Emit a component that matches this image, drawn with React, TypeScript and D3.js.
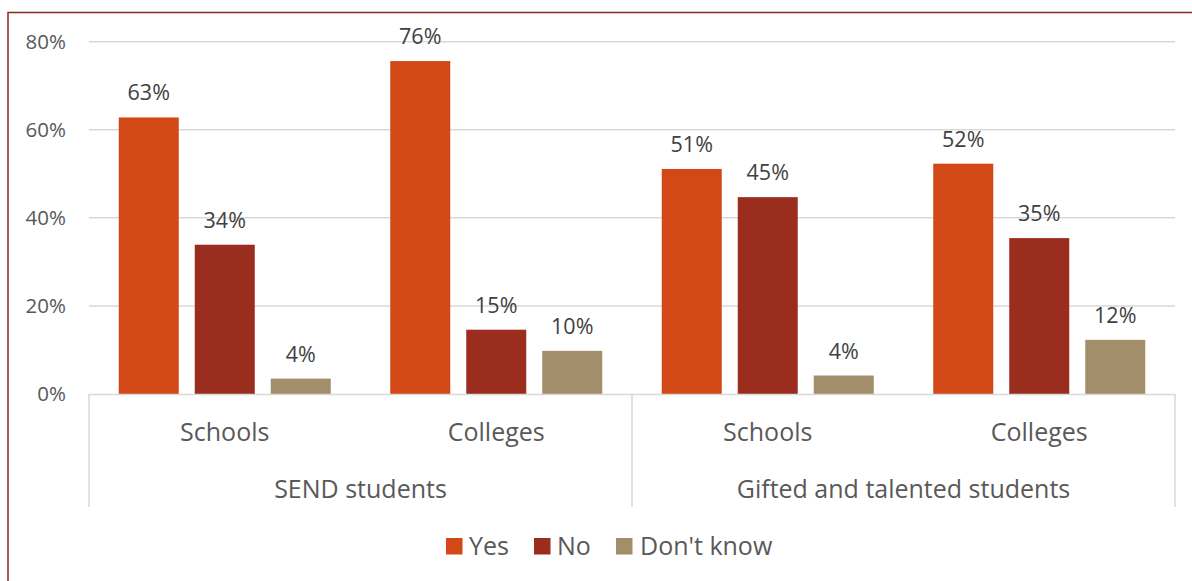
import React from "react";
import * as d3 from "d3";

const groups = ["SEND students", "Gifted and talented students"];
const categories = [
  { group: "SEND students", label: "Schools" },
  { group: "SEND students", label: "Colleges" },
  { group: "Gifted and talented students", label: "Schools" },
  { group: "Gifted and talented students", label: "Colleges" },
];
const seriesNames = ["Yes", "No", "Don't know"];
const yesValues = [62.8, 75.6, 51.1, 52.3];
const noValues = [33.9, 14.6, 44.7, 35.4];
const dontKnowValues = [3.5, 9.8, 4.2, 12.3];
const yesLabels = ["63%", "76%", "51%", "52%"];
const noLabels = ["34%", "15%", "45%", "35%"];
const dontKnowLabels = ["4%", "10%", "4%", "12%"];
const yTicks = [0, 20, 40, 60, 80];

const colors = ["#D34817", "#9B2D1F", "#A28E6A"];
const textColor = "#595959";
const FONT = "'Open Sans', 'DejaVu Sans', sans-serif";

export default function App() {
  const W = 1192;
  const H = 581;
  const left = 89;
  const right = 1175;
  const top = 41.7;
  const bottom = 394;
  const seriesValues = [yesValues, noValues, dontKnowValues];
  const seriesLabels = [yesLabels, noLabels, dontKnowLabels];

  const x0 = d3
    .scaleBand<number>()
    .domain(categories.map((_, i) => i))
    .range([left, right])
    .padding(0);
  const bw0 = x0.bandwidth();
  const groupW = 212;
  const x1 = d3
    .scaleBand<string>()
    .domain(seriesNames)
    .range([(bw0 - groupW) / 2, (bw0 + groupW) / 2])
    .paddingInner(16 / 76)
    .paddingOuter(0);
  const y = d3.scaleLinear().domain([0, 80]).range([bottom, top]);

  const axisBottom = 507;
  const groupBounds = groups.map((g) => {
    const idx = categories.map((c, i) => (c.group === g ? i : -1)).filter((i) => i >= 0);
    const x0s = x0(idx[0])!;
    const x1s = x0(idx[idx.length - 1])! + bw0;
    return { g, x0s, x1s };
  });

  const legendItems = [
    { name: "Yes", sx: 446, tx: 469 },
    { name: "No", sx: 534, tx: 557 },
    { name: "Don't know", sx: 616, tx: 640 },
  ];

  const catFont = 25;

  return (
    <svg
      width={W}
      height={H}
      style={{ position: "absolute", left: 0, top: 0, background: "#fff" }}
      fontFamily={FONT}
    >
      <rect x={0} y={0} width={W} height={H} fill="#fff" />
      <rect x={8} y={12.5} width={W + 20} height={H + 20} fill="none" stroke="#8B2B1E" strokeWidth={1.5} />

      {yTicks.map((t) => (
        <g key={t}>
          {t > 0 && (
            <line x1={left} x2={right} y1={y(t)} y2={y(t)} stroke="#D9D9D9" strokeWidth={1.5} />
          )}
          <text
            x={66}
            y={y(t)}
            dy="0.35em"
            textAnchor="end"
            fontSize={20.5}
            fill={textColor}
          >
            {t}%
          </text>
        </g>
      ))}

      {categories.map((c, ci) =>
        seriesNames.map((s, si) => {
          const v = seriesValues[si][ci];
          const bx = x0(ci)! + x1(s)!;
          return (
            <g key={ci + "-" + si}>
              <rect
                x={bx}
                y={y(v)}
                width={x1.bandwidth()}
                height={bottom - y(v)}
                fill={colors[si]}
              />
              <text
                x={bx + x1.bandwidth() / 2}
                y={y(v) - 17}
                textAnchor="middle"
                fontSize={21.5}
                fill="#404040"
              >
                {seriesLabels[si][ci]}
              </text>
            </g>
          );
        })
      )}

      {/* category axis */}
      <line x1={left} x2={right} y1={bottom + 0.5} y2={bottom + 0.5} stroke="#D9D9D9" strokeWidth={1.5} />
      {[left, groupBounds[0].x1s, right].map((xx, i) => (
        <line key={i} x1={xx} x2={xx} y1={bottom} y2={axisBottom} stroke="#D9D9D9" strokeWidth={1.5} />
      ))}
      {categories.map((c, ci) => (
        <text
          key={ci}
          x={x0(ci)! + bw0 / 2}
          y={432}
          dy="0.35em"
          textAnchor="middle"
          fontSize={catFont}
          fill={textColor}
        >
          {c.label}
        </text>
      ))}
      {groupBounds.map((gb) => (
        <text
          key={gb.g}
          x={(gb.x0s + gb.x1s) / 2}
          y={489}
          dy="0.35em"
          textAnchor="middle"
          fontSize={catFont}
          fill={textColor}
        >
          {gb.g}
        </text>
      ))}

      {/* legend */}
      {legendItems.map((it, i) => (
        <g key={it.name}>
          <rect x={it.sx} y={538} width={16.5} height={16.5} fill={colors[i]} />
          <text x={it.tx} y={546} dy="0.35em" fontSize={catFont} fill={textColor}>
            {it.name}
          </text>
        </g>
      ))}
    </svg>
  );
}
